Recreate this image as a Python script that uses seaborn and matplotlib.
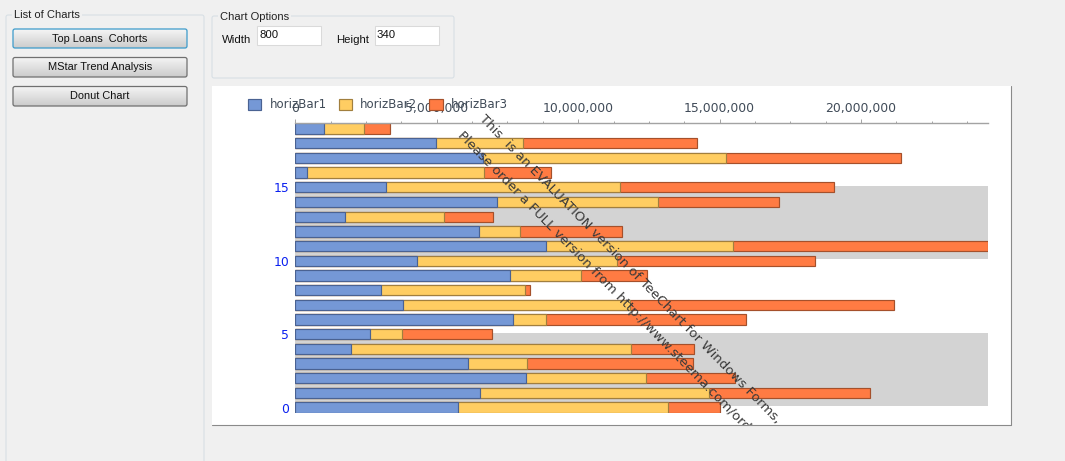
"""
TeeChart horizontal stacked bars inside the WinForms test window
"""

import numpy as np
import pandas as pd
import matplotlib
matplotlib.use("Agg")
import matplotlib.pyplot as plt
import seaborn as sns
from matplotlib.patches import Rectangle, Patch, FancyBboxPatch
from matplotlib.ticker import MultipleLocator, FixedLocator, FuncFormatter

# values from row 0 (bottom) to row 19 (top)
rows = list(range(20))
horiz_bar1 = [5750000, 6530000, 8150000, 6100000, 1960000, 2630000, 7700000, 3800000, 3030000, 7580000,
              4290000, 8850000, 6500000, 1750000, 7130000, 3210000, 410000, 6640000, 4960000, 1000000]
horiz_bar2 = [7430000, 8100000, 4250000, 2100000, 9910000, 1130000, 1170000, 8040000, 5090000, 2520000,
              7080000, 6610000, 1450000, 3500000, 5680000, 8270000, 6260000, 8590000, 3090000, 1430000]
horiz_bar3 = [1830000, 5680000, 3140000, 5860000, 2220000, 3180000, 7060000, 9320000, 170000, 2320000,
              7010000, 9030000, 3600000, 1730000, 4280000, 7560000, 2380000, 6180000, 6140000, 930000]

series_names = ["horizBar1", "horizBar2", "horizBar3"]
fill_colors = ["#7598D6", "#FFCD62", "#FF7B43"]
edge_colors = ["#4A6292", "#A17F3E", "#A5502B"]

x_ticks = [0, 5000000, 10000000, 15000000, 20000000]
y_ticks = [0, 5, 10, 15]
bands = [(0.12, 5.08), (10.1, 15.08)]

watermark_1 = "This  is an EVALUATION version of TeeChart for Windows Forms,"
watermark_2 = "Please order a FULL version from http://www.steema.com/order"

W, H = 1065, 461
BG = "#F0F0F0"

sns.set_theme(style="white")
plt.rcParams["font.family"] = ["DejaVu Sans"]

fig = plt.figure(figsize=(W / 100, H / 100), dpi=100, facecolor=BG)

# -----------------------------
# Window chrome, in pixels
# -----------------------------

ui = fig.add_axes([0, 0, 1, 1], zorder=0)
ui.set_xlim(0, W)
ui.set_ylim(H, 0)
ui.axis("off")


def group_box(x0, y0, x1, y1, title, title_x):
    ui.add_patch(FancyBboxPatch((x0, y0), x1 - x0, y1 - y0, boxstyle="round,pad=0,rounding_size=2",
                                fc="none", ec="#D6DEE4", lw=0.75))
    ui.text(title_x, y0 + 0.5, title, fontsize=8, family="Liberation Sans", color="#222222",
            va="center", ha="left", bbox=dict(fc=BG, ec="none", pad=1.5))


def button(y0, y1, label, edge="#707070"):
    face = ui.imshow(np.linspace(0.96, 0.80, 20).reshape(-1, 1), cmap="gray", vmin=0, vmax=1,
                     aspect="auto", extent=(13, 187, y1, y0), zorder=2)
    frame = FancyBboxPatch((13, y0), 174, y1 - y0, boxstyle="round,pad=0,rounding_size=2",
                           fc="none", ec=edge, lw=0.9, zorder=3)
    ui.add_patch(frame)
    face.set_clip_path(frame)
    ui.text(100, (y0 + y1) / 2, label, fontsize=7.9, family="Liberation Sans", color="#111111",
            ha="center", va="center", zorder=4)


def text_input(x0, x1, value):
    ui.add_patch(Rectangle((x0, 26.5), x1 - x0, 18.5, fc="white", ec="#DADADA", lw=0.75))
    ui.text(x0 + 2, 35, value, fontsize=8.2, family="Liberation Sans", color="#111111", va="center")


group_box(6, 15, 204, 470, "List of Charts", 14)
group_box(212, 16, 454, 78, "Chart Options", 220)
button(29, 48, "Top Loans  Cohorts", edge="#3C9BCB")
button(57.5, 77, "MStar Trend Analysis")
button(86.5, 106, "Donut Chart")
ui.text(222, 40, "Width", fontsize=8.2, family="Liberation Sans", color="#111111", va="center")
ui.text(336, 40, "Height", fontsize=8.2, family="Liberation Sans", color="#111111", va="center")
text_input(257, 321, "800")
text_input(375, 439, "340")
ui.set_xlim(0, W)
ui.set_ylim(H, 0)

# chart panel
panel = Rectangle((212, 86), 799, 339, fc="white", ec="none", zorder=5)
ui.add_patch(panel)
ui.plot([212, 1011, 1011], [425, 425, 86], color="#8A8A8A", lw=0.8, zorder=6)

# -----------------------------
# Stacked bars
# -----------------------------

df = pd.DataFrame({
    "row": rows,
    "horizBar1": horiz_bar1,
    "horizBar2": horiz_bar2,
    "horizBar3": horiz_bar3
})

ends = df[series_names].cumsum(axis=1)
ends["row"] = df["row"]

top_px, bottom_px = 123, 413.2
ax = fig.add_axes([295.3 / W, 1 - bottom_px / H, (988 - 295.3) / W, (bottom_px - top_px) / H], zorder=1)
ax.patch.set_alpha(0)

for low, high in bands:
    ax.axhspan(low, high, color="#D3D3D3", lw=0, zorder=0)

# longest first, each shorter stack paints over the one before
for name, fill, edge in reversed(list(zip(series_names, fill_colors, edge_colors))):
    sns.barplot(
        data=ends,
        x=name,
        y="row",
        orient="y",
        native_scale=True,
        color=fill,
        saturation=1,
        width=0.7,
        edgecolor=edge,
        linewidth=0.85,
        errorbar=None,
        ax=ax,
        zorder=2
    )

ax.set_xlim(0, 24490000)
ax.set_ylim(-0.38, 19.38)
ax.set_xlabel("")
ax.set_ylabel("")

for side in ["left", "right", "bottom"]:
    ax.spines[side].set_visible(False)
ax.spines["top"].set_color("#A3A3A3")
ax.spines["top"].set_linewidth(1)

ax.xaxis.set_major_locator(FixedLocator(x_ticks))
ax.xaxis.set_minor_locator(MultipleLocator(1250000))
ax.xaxis.set_major_formatter(FuncFormatter(lambda v, _: f"{int(v):,}"))
ax.tick_params(axis="x", which="major", top=True, bottom=False, labeltop=True, labelbottom=False,
               length=2.9, width=0.7, color="#A3A3A3", labelcolor="#404B58", labelsize=8.9, pad=3)
ax.tick_params(axis="x", which="minor", top=True, bottom=False, length=1.6, width=0.7, color="#A3A3A3")
ax.yaxis.set_major_locator(FixedLocator(y_ticks))
ax.yaxis.set_major_formatter(FuncFormatter(lambda v, _: f"{int(v)}"))
ax.tick_params(axis="y", which="both", left=False, right=False, length=0, labelcolor="#0A20F0",
               labelsize=8.9, pad=4.5)

# -----------------------------
# Legend and watermark
# -----------------------------

handles = [Patch(fc=f, ec=e, lw=0.85, label=n) for n, f, e in zip(series_names, fill_colors, edge_colors)]
fig.legend(
    handles=handles,
    loc="center left",
    bbox_to_anchor=(248 / W, 1 - 105 / H),
    ncol=3,
    frameon=False,
    fontsize=8.45,
    labelcolor="#404B58",
    handlelength=1.15,
    handleheight=1.1,
    handletextpad=0.7,
    columnspacing=1.0,
    borderpad=0,
    borderaxespad=0
)

overlay = fig.add_axes([0, 0, 1, 1], zorder=3)
overlay.set_xlim(0, W)
overlay.set_ylim(H, 0)
overlay.axis("off")
clip = Rectangle((212, 86), 799, 339, transform=overlay.transData)
for text, x, y in [(watermark_1, 481, 117), (watermark_2, 460, 133)]:
    t = overlay.text(x, y, text, rotation=-45.7, rotation_mode="anchor", ha="left", va="center",
                     fontsize=9.6, color="#3A3A3A")
    t.set_clip_path(clip)
    t.set_clip_on(True)

fig.savefig("out.png", dpi=100, facecolor=BG)
plt.close(fig)
